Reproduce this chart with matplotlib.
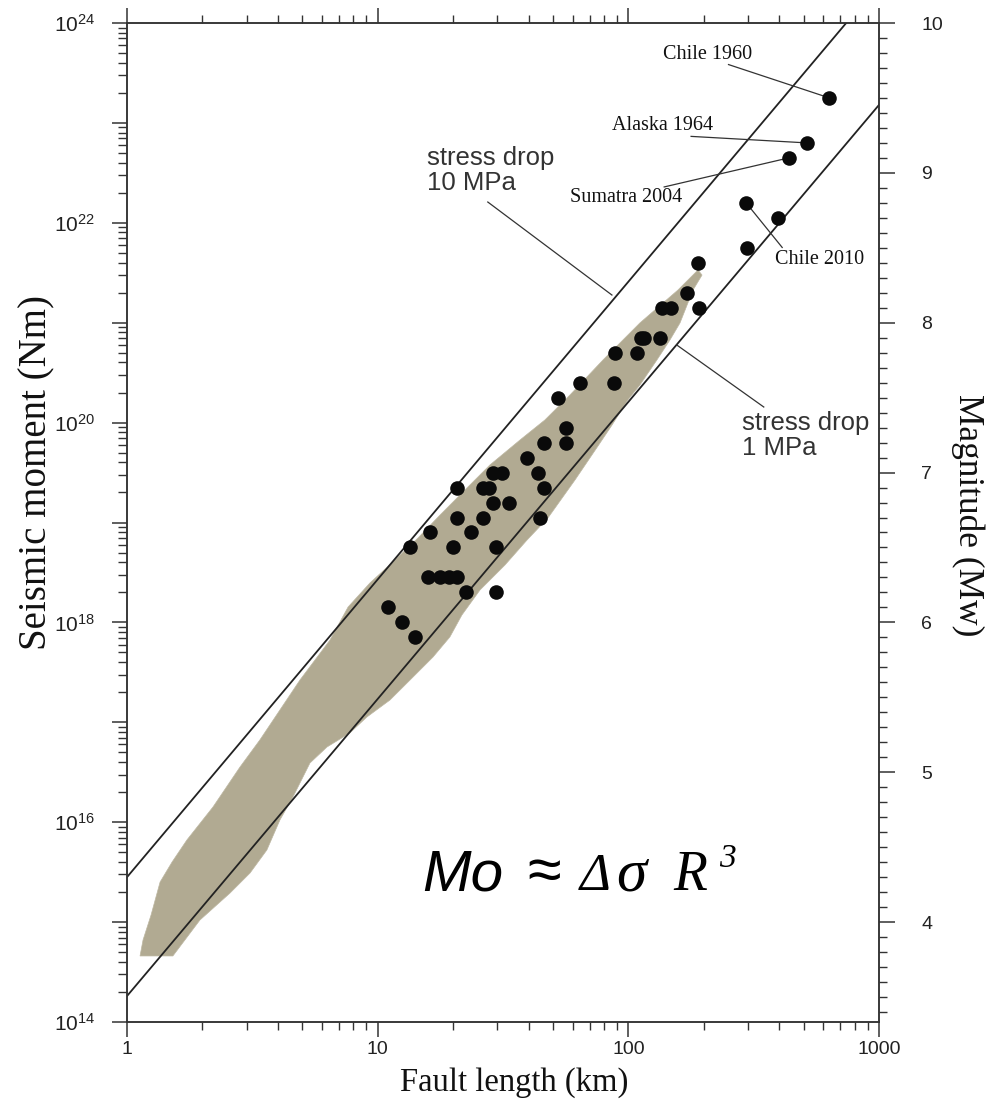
import numpy as np
import matplotlib.pyplot as plt
from matplotlib.ticker import LogLocator, FixedLocator, FuncFormatter, MultipleLocator, NullFormatter

plt.rcParams['mathtext.fontset'] = 'custom'
plt.rcParams['mathtext.rm'] = 'Liberation Sans'
plt.rcParams['mathtext.it'] = 'Liberation Sans:italic'

SANS = 'Liberation Sans'
SERIF = 'Liberation Serif'
AXIS_COLOR = '#333333'

# earthquakes: fault length (km) and magnitude (Mw)
quake_length = [634, 514, 437, 295, 397, 297, 190, 172, 136, 148, 192,
                112, 116, 134, 88.4, 108, 64.1, 87.9, 52.2, 56.2, 46.2,
                56.2, 39.3, 28.9, 31.2, 43.7, 20.7, 26.4, 27.8, 46.2, 28.8,
                33.5, 20.8, 26.4, 44.4, 16.1, 23.6, 13.5, 19.9, 29.6, 15.9,
                17.7, 19.3, 20.7, 22.6, 29.6, 11.0, 12.5, 14.1]
quake_mw = [9.5, 9.2, 9.1, 8.8, 8.7, 8.5, 8.4, 8.2, 8.1, 8.1, 8.1,
            7.9, 7.9, 7.9, 7.8, 7.8, 7.6, 7.6, 7.5, 7.3, 7.2,
            7.2, 7.1, 7.0, 7.0, 7.0, 6.9, 6.9, 6.9, 6.9, 6.8,
            6.8, 6.7, 6.7, 6.7, 6.6, 6.6, 6.5, 6.5, 6.5, 6.3,
            6.3, 6.3, 6.3, 6.2, 6.2, 6.1, 6.0, 5.9]

# outline of the shaded envelope (log10 length, log10 moment)
envelope_log_length = [0.052, 0.064, 0.096, 0.132, 0.180, 0.239, 0.343, 0.451, 0.530,
                       0.610, 0.690, 0.810, 0.882, 0.969, 1.069, 1.161, 1.249, 1.348,
                       1.448, 1.568, 1.667, 1.767, 1.899, 2.046, 2.198, 2.278,
                       2.294, 2.258, 2.206, 2.166, 2.114, 2.046, 1.998, 1.935, 1.887,
                       1.787, 1.679, 1.596, 1.508, 1.408, 1.336, 1.288, 1.221, 1.129,
                       1.049, 0.957, 0.889, 0.798, 0.730, 0.662, 0.610, 0.558, 0.491,
                       0.411, 0.291, 0.183]
envelope_log_moment = [14.661, 14.821, 15.071, 15.401, 15.602, 15.822, 16.152, 16.553, 16.823,
                       17.123, 17.423, 17.824, 18.154, 18.394, 18.625, 18.845, 19.075, 19.325,
                       19.576, 19.826, 20.026, 20.276, 20.627, 20.997, 21.327, 21.528,
                       21.477, 21.327, 20.997, 20.827, 20.627, 20.376, 20.226, 19.976, 19.796,
                       19.425, 19.045, 18.825, 18.575, 18.324, 18.074, 17.854, 17.654, 17.423,
                       17.223, 17.053, 16.893, 16.753, 16.593, 16.252, 16.022, 15.722, 15.492,
                       15.291, 15.021, 14.661]

# constant stress drop lines (end points)
line_length = [1, 1000]
line_10mpa_log_moment = [15.45, 24.39]
line_1mpa_log_moment = [14.26, 23.18]

fig = plt.figure(figsize=(9.98, 11.03), dpi=100)
ax = fig.add_axes([127 / 998, 1 - 1022 / 1103, 752 / 998, 999 / 1103])
ax.set_xscale('log')
ax.set_yscale('log')
ax.set_xlim(1, 1000)
ax.set_ylim(1e14, 1e24)

ax.fill(10 ** np.array(envelope_log_length), 10 ** np.array(envelope_log_moment),
        color='#b1aa92', lw=0.5, ec='#bdb7a2', zorder=1)

ax.plot(line_length, 10 ** np.array(line_10mpa_log_moment), color='#222222', lw=1.3, zorder=3)
ax.plot(line_length, 10 ** np.array(line_1mpa_log_moment), color='#222222', lw=1.3, zorder=3)

moment = 10 ** (1.5 * np.array(quake_mw) + 9)
ax.scatter(quake_length, moment, s=110, color='#0a0a0a', lw=0, zorder=5)

# event labels with leader lines
labels = [('Chile 1960', (207, 10 ** 23.68), (251, 10 ** 23.584), 0),
          ('Alaska 1964', (137, 10 ** 22.976), (178, 10 ** 22.865), 1),
          ('Sumatra 2004', (97.6, 10 ** 22.258), (139, 10 ** 22.359), 2),
          ('Chile 2010', (578, 10 ** 21.635), (411, 10 ** 21.753), 3)]
for text, pos, start, idx in labels:
    ax.text(pos[0], pos[1], text, family=SERIF, fontsize=14.5, color='#111111',
            ha='center', va='center', zorder=6)
    ax.plot([start[0], quake_length[idx]], [start[1], moment[idx]],
            color='#333333', lw=0.9, zorder=4)

ax.text(15.7, 10 ** 22.77, 'stress drop\n10 MPa', family=SANS, fontsize=18.5,
        color='#333333', ha='left', va='top', linespacing=1.05)
ax.plot([27.5, 86.0], [10 ** 22.208, 10 ** 21.277], color='#333333', lw=0.9, zorder=3)

ax.text(284, 10 ** 20.116, 'stress drop\n1 MPa', family=SANS, fontsize=18.5,
        color='#333333', ha='left', va='top', linespacing=1.05)
ax.plot([347, 156], [10 ** 20.156, 10 ** 20.777], color='#333333', lw=0.9, zorder=3)

# formula  Mo ~ dsigma R^3
ax.text(0.392, 0.132, 'Mo', family=SANS, style='italic', fontsize=42,
        transform=ax.transAxes, ha='left', va='baseline')
ax.text(0.533, 0.132, '\u2248', family=SANS, fontsize=44,
        transform=ax.transAxes, ha='left', va='baseline')
ax.text(0.602, 0.132, '\u0394', family=SERIF, style='italic', fontsize=38,
        transform=ax.transAxes, ha='left', va='baseline')
ax.text(0.650, 0.132, '\u03c3', family=SERIF, style='italic', fontsize=44,
        transform=ax.transAxes, ha='left', va='baseline')
ax.text(0.727, 0.132, 'R', family=SERIF, style='italic', fontsize=40,
        transform=ax.transAxes, ha='left', va='baseline')
ax.text(0.787, 0.155, '3', family=SERIF, style='italic', fontsize=24,
        transform=ax.transAxes, ha='left', va='baseline')

# axes styling
for sp in ax.spines.values():
    sp.set_color(AXIS_COLOR)
    sp.set_linewidth(1.1)

ax.xaxis.set_major_locator(FixedLocator([1, 10, 100, 1000]))
ax.xaxis.set_major_formatter(FuncFormatter(lambda v, p: '%d' % round(v)))
ax.xaxis.set_minor_locator(LogLocator(base=10, subs=np.arange(2, 10)))
ax.xaxis.set_minor_formatter(NullFormatter())
ax.yaxis.set_major_locator(FixedLocator([10.0 ** k for k in range(14, 25)]))
ax.yaxis.set_major_formatter(FuncFormatter(
    lambda v, p: r'$10^{%d}$' % round(np.log10(v)) if round(np.log10(v)) % 2 == 0 else ''))
ax.yaxis.set_minor_locator(LogLocator(base=10, subs=np.arange(2, 10), numticks=20))
ax.yaxis.set_minor_formatter(NullFormatter())

ax.tick_params(axis='x', which='both', direction='out', top=True, bottom=True,
               colors=AXIS_COLOR, labelcolor='#222222', labelsize=14)
ax.tick_params(axis='x', which='major', length=11, width=1.1, pad=3)
ax.tick_params(axis='x', which='minor', length=6, width=1.0)
ax.tick_params(axis='y', which='both', direction='out', left=True, right=False,
               colors=AXIS_COLOR, labelcolor='#222222', labelsize=15)
ax.tick_params(axis='y', which='major', length=11, width=1.1, pad=12)
ax.tick_params(axis='y', which='minor', length=6.5, width=1.0)
for lab in ax.get_xticklabels():
    lab.set_family(SANS)

ax2 = ax.twinx()
ax2.set_ylim(2 / 3 * 14 - 6, 10)
ax2.yaxis.set_major_locator(MultipleLocator(1))
ax2.yaxis.set_minor_locator(MultipleLocator(0.1))
ax2.yaxis.set_major_formatter(FuncFormatter(lambda v, p: '%d' % round(v)))
ax2.tick_params(axis='y', which='both', direction='out', colors=AXIS_COLOR,
                labelcolor='#222222', labelsize=14)
ax2.tick_params(axis='y', which='major', length=11.5, width=1.1, pad=19)
ax2.tick_params(axis='y', which='minor', length=6, width=1.0)
for lab in ax2.get_yticklabels():
    lab.set_family(SANS)
for sp in ax2.spines.values():
    sp.set_color(AXIS_COLOR)
    sp.set_linewidth(1.1)

fig.text(37 / 998, 1 - 472 / 1103, 'Seismic moment (Nm)', family=SERIF, fontsize=28,
         rotation=90, ha='center', va='center', color='#111111')
fig.text(968 / 998, 1 - 515 / 1103, 'Magnitude (Mw)', family=SERIF, fontsize=25.5,
         rotation=270, ha='center', va='center', color='#111111')
fig.text(514 / 998, 1 - 1083 / 1103, 'Fault length (km)', family=SERIF, fontsize=23.5,
         ha='center', va='center', color='#111111')

fig.savefig('out.png', dpi=100, facecolor='white')
